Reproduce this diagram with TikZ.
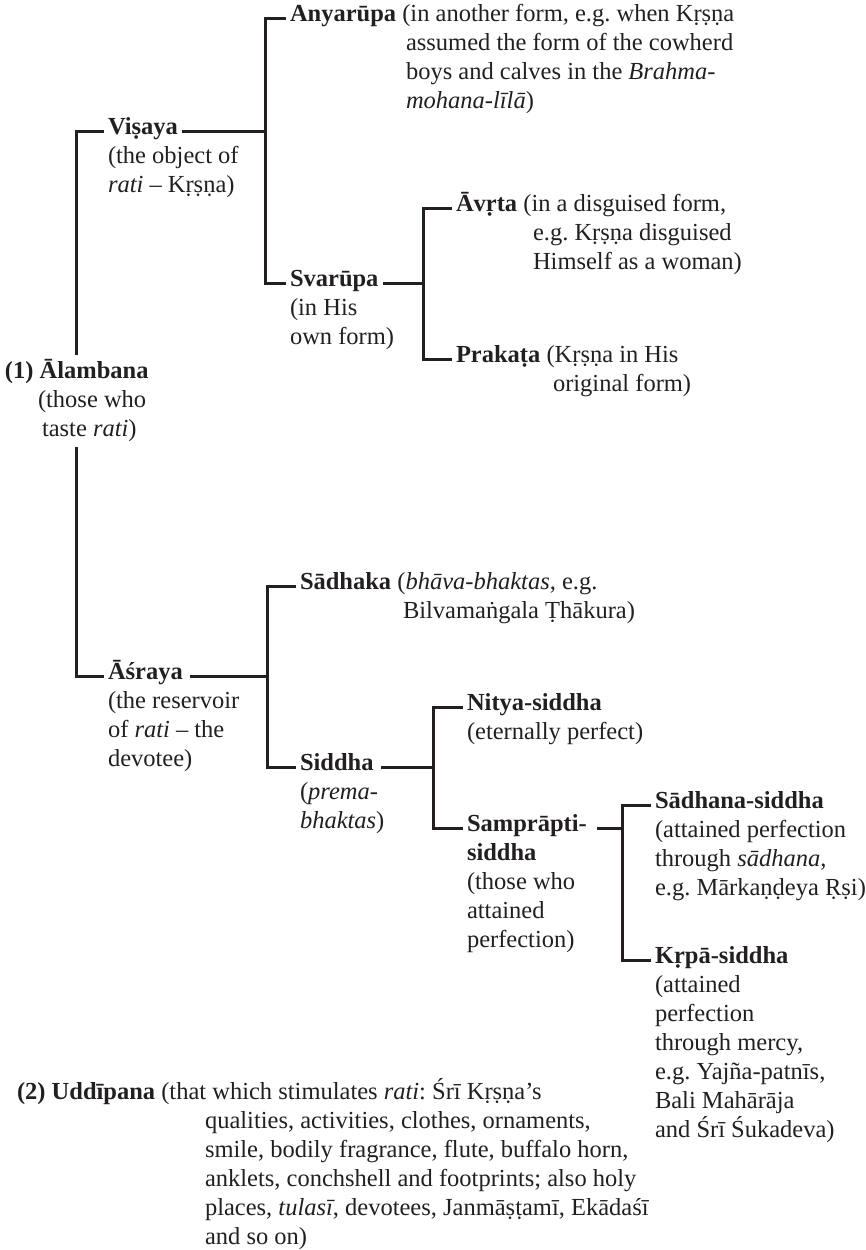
\documentclass[tikz,border=0pt]{standalone}
\usepackage{fontspec}
\setmainfont{Liberation Serif}
\definecolor{ink}{HTML}{231F20}
\frenchspacing
% lines of a block, set on a fixed 29pt baseline grid; the block's base is its first line
\newcommand\stack[1]{\vtop{\baselineskip=29pt\lineskiplimit=-\maxdimen\halign{##\hfil\cr#1\crcr}}}

\begin{document}
\begin{tikzpicture}[x=1pt,y=-1pt,
  every node/.style={font=\fontsize{24.5}{29}\selectfont\frenchspacing, text=ink,
    inner sep=0pt, outer sep=0pt, anchor=base west},
  head/.style={outer xsep=4pt},
  link/.style={draw=ink, line width=3pt, line join=miter},
]
\useasboundingbox (0,0) rectangle (866,1250);

% ---- Visaya branch
\node[head] (anyarupa) at (286,21) {\textbf{Anyarūpa} (in another form, e.g. when Kṛṣṇa};
\node (anyarupa-more) at (406,50) {\stack{assumed the form of the cowherd\cr
  boys and calves in the \textit{Brahma-}\cr \textit{mohana-līlā})}};
\node[head] (visaya) at (104,134) {\textbf{Viṣaya}};
\node (visaya-desc) at (108,163) {\stack{(the object of\cr \textit{rati} – Kṛṣṇa)}};
\node[head] (avrta) at (452,211) {\textbf{Āvṛta} (in a disguised form,};
\node (avrta-more) at (533,240) {\stack{e.g. Kṛṣṇa disguised\cr Himself as a woman)}};
\node[head] (svarupa) at (286,286) {\textbf{Svarūpa}};
\node (svarupa-desc) at (290,315) {\stack{(in His\cr own form)}};
\node[head] (prakata) at (452,362) {\textbf{Prakaṭa} (Kṛṣṇa in His};
\node (prakata-more) at (553,391) {original form)};

% ---- root
\node (alambana) at (5,378) {\textbf{(1) Ālambana}};
\node (alambana-1) at (38,407) {(those who};
\node (alambana-2) at (42,436) {taste \textit{rati})};

% ---- Asraya branch
\node[head] (sadhaka) at (296,589) {\textbf{Sādhaka} (\textit{bhāva-bhaktas}, e.g.};
\node (sadhaka-more) at (403,618) {Bilvamaṅgala Ṭhākura)};
\node[head] (asraya) at (104,679) {\textbf{Āśraya}};
\node (asraya-desc) at (108,708) {\stack{(the reservoir\cr of \textit{rati} – the\cr devotee)}};
\node[head] (nitya) at (463,710) {\textbf{Nitya-siddha}};
\node (nitya-desc) at (467,739) {(eternally perfect)};
\node[head] (siddha) at (296,770) {\textbf{Siddha}};
\node (siddha-desc) at (300,799) {\stack{(\textit{prema-}\cr \textit{bhaktas})}};
\node[head] (samprapti) at (463,831) {\textbf{Samprāpti-}};
\node (samprapti-desc) at (467,860) {\stack{\textbf{siddha}\cr (those who\cr attained\cr perfection)}};
\node[head] (sadhana) at (651,808) {\textbf{Sādhana-siddha}};
\node (sadhana-desc) at (655,837) {\stack{(attained perfection\cr
  through \textit{sādhana},\cr e.g. Mārkaṇḍeya Ṛṣi)}};
\node[head] (krpa) at (651,963) {\textbf{Kṛpā-siddha}};
\node (krpa-desc) at (655,992) {\stack{(attained\cr perfection\cr through mercy,\cr
  e.g. Yajña-patnīs,\cr Bali Mahārāja\cr and Śrī Śukadeva)}};

% ---- Uddipana
\node (uddipana) at (17,1099) {\textbf{(2) Uddīpana} (that which stimulates \textit{rati}: Śrī Kṛṣṇa’s};
\node (uddipana-more) at (205,1128) {\stack{qualities, activities, clothes, ornaments,\cr
  smile, bodily fragrance, flute, buffalo horn,\cr
  anklets, conchshell and footprints; also holy\cr
  places, \textit{tulasī}, devotees, Janmāṣṭamī, Ekādaśī\cr
  and so on)}};

% ---- tree lines
\coordinate (rtop) at (76,355);
\coordinate (rbot) at (76,447);
\coordinate (busA) at (265,0);
\coordinate (busB) at (423,0);
\coordinate (busC) at (267,0);
\coordinate (busD) at (433,0);
\coordinate (busE) at (622,0);

\draw[link] (rtop) |- (visaya.mid west);
\draw[link] (rbot) |- (asraya.mid west);

\draw[link] (visaya.mid east) -- (visaya.mid east -| busA);
\draw[link] (anyarupa.mid west) -| (busA |- svarupa.mid west) -- (svarupa.mid west);

\draw[link] (svarupa.mid east) -- (svarupa.mid east -| busB);
\draw[link] (avrta.mid west) -| (busB |- prakata.mid west) -- (prakata.mid west);

\draw[link] ([xshift=3pt]asraya.mid east) -- (asraya.mid east -| busC);
\draw[link] ([xshift=3pt]siddha.mid east) -- (siddha.mid east -| busD);
\draw[link] (sadhaka.mid west) -| (busC |- siddha.mid west) -- (siddha.mid west);

\draw[link] (nitya.mid west) -| (busD |- samprapti.mid west) -- (samprapti.mid west);

\draw[link] ([xshift=6pt]samprapti.mid east) -- (samprapti.mid east -| busE);
\draw[link] (sadhana.mid west) -| (busE |- krpa.mid west) -- (krpa.mid west);
\end{tikzpicture}
\end{document}
